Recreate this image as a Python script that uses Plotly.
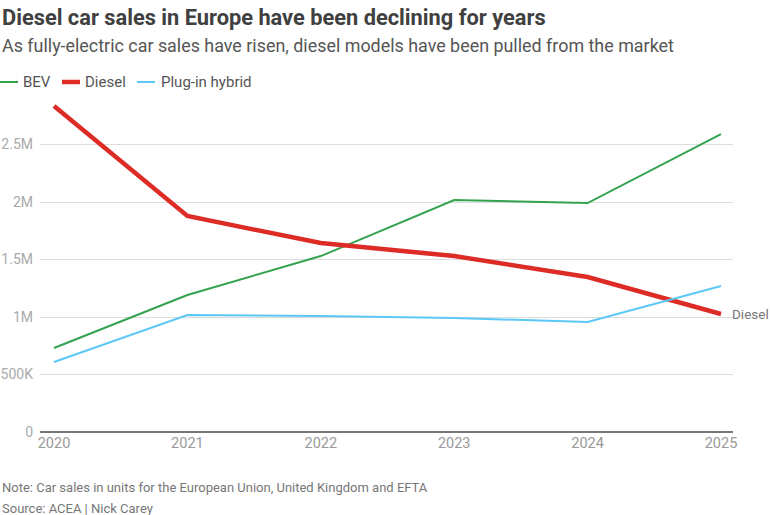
import plotly.graph_objects as go

years = [2020, 2021, 2022, 2023, 2024, 2025]
bev = [730000, 1191000, 1530000, 2017000, 1991000, 2591000]
diesel = [2835000, 1878000, 1643000, 1530000, 1348000, 1026000]
phev = [609000, 1017000, 1009000, 991000, 957000, 1270000]

series_names = ["BEV", "Diesel", "Plug-in hybrid"]
tick_vals = [0, 500000, 1000000, 1500000, 2000000, 2500000]
tick_text = ["0", "500K", "1M", "1.5M", "2M", "2.5M"]

FONT = "Roboto, sans-serif"
C_BEV = "#34a34f"
C_DIESEL = "#dd2c26"
C_PHEV = "#5bc8f7"
colors = [C_BEV, C_DIESEL, C_PHEV]
widths = [2, 4.5, 2]

L, R, T, B = 40, 37, 100, 83
W, H = 770, 515
PW, PH = W - L - R, H - T - B


def px(x):
    return (x - L) / PW


def py(y):
    return (H - B - y) / PH


fig = go.Figure()
for name, vals, c, w in zip(series_names, [bev, diesel, phev], colors, widths):
    fig.add_trace(go.Scatter(x=years, y=vals, name=name, mode="lines",
                             line=dict(color=c, width=w), showlegend=False))

fig.add_annotation(x=years[-1], y=diesel[-1], text="Diesel", showarrow=False,
                   xanchor="left", yanchor="middle", xshift=9,
                   font=dict(family=FONT, size=13.5, color="#777777"))

# legend (swatches + labels)
leg_items = [(0, 18, 21), (62, 80, 83), (137, 155, 159)]
for (x0, x1, tx), name, c, w in zip(leg_items, series_names, colors, widths):
    fig.add_shape(type="line", xref="paper", yref="paper",
                  x0=px(x0), x1=px(x1), y0=py(82), y1=py(82),
                  line=dict(color=c, width=w))
    fig.add_annotation(xref="paper", yref="paper", x=px(tx), y=py(82),
                       xanchor="left", yanchor="middle", showarrow=False,
                       text=name, font=dict(family=FONT, size=15, color="#555555"))

fig.update_layout(
    width=W, height=H,
    margin=dict(l=L, r=R, t=T, b=B, autoexpand=False),
    paper_bgcolor="white", plot_bgcolor="white",
    font=dict(family=FONT, color="#999999", size=14),
    showlegend=False,
    hovermode=False,
    xaxis=dict(range=[2019.895, 2025.09], tickvals=years, ticktext=[str(y) for y in years],
               showgrid=False, zeroline=False, showline=False, ticks="", automargin=False,
               tickfont=dict(family=FONT, size=14.5, color="#999999")),
    yaxis=dict(range=[0, 2887000], tickvals=tick_vals, ticktext=tick_text,
               showgrid=True, gridcolor="#dddddd", gridwidth=1,
               zeroline=True, zerolinecolor="#777777", zerolinewidth=2,
               ticks="", ticklabelstandoff=6, automargin=False,
               tickfont=dict(family=FONT, size=14, color="#aaaaaa")),
)

fig.add_annotation(xref="paper", yref="paper", x=px(0), y=py(17),
                   xanchor="left", yanchor="middle", showarrow=False,
                   text="<b>Diesel car sales in Europe have been declining for years</b>",
                   font=dict(family=FONT, size=21.8, color="#404040"))
fig.add_annotation(xref="paper", yref="paper", x=px(0), y=py(46),
                   xanchor="left", yanchor="middle", showarrow=False,
                   text="As fully-electric car sales have risen, diesel models have been pulled from the market",
                   font=dict(family=FONT, size=17.9, color="#555555"))
fig.add_annotation(xref="paper", yref="paper", x=px(0), y=py(487),
                   xanchor="left", yanchor="middle", showarrow=False,
                   text="Note: Car sales in units for the European Union, United Kingdom and EFTA",
                   font=dict(family=FONT, size=13, color="#777777"))
fig.add_annotation(xref="paper", yref="paper", x=px(0), y=py(508),
                   xanchor="left", yanchor="middle", showarrow=False,
                   text="Source: ACEA | Nick Carey",
                   font=dict(family=FONT, size=13, color="#777777"))

fig.write_html("out.html",
               config={"displayModeBar": False, "staticPlot": True},
               post_script="document.body.style.margin='0';document.body.style.overflow='hidden';")
